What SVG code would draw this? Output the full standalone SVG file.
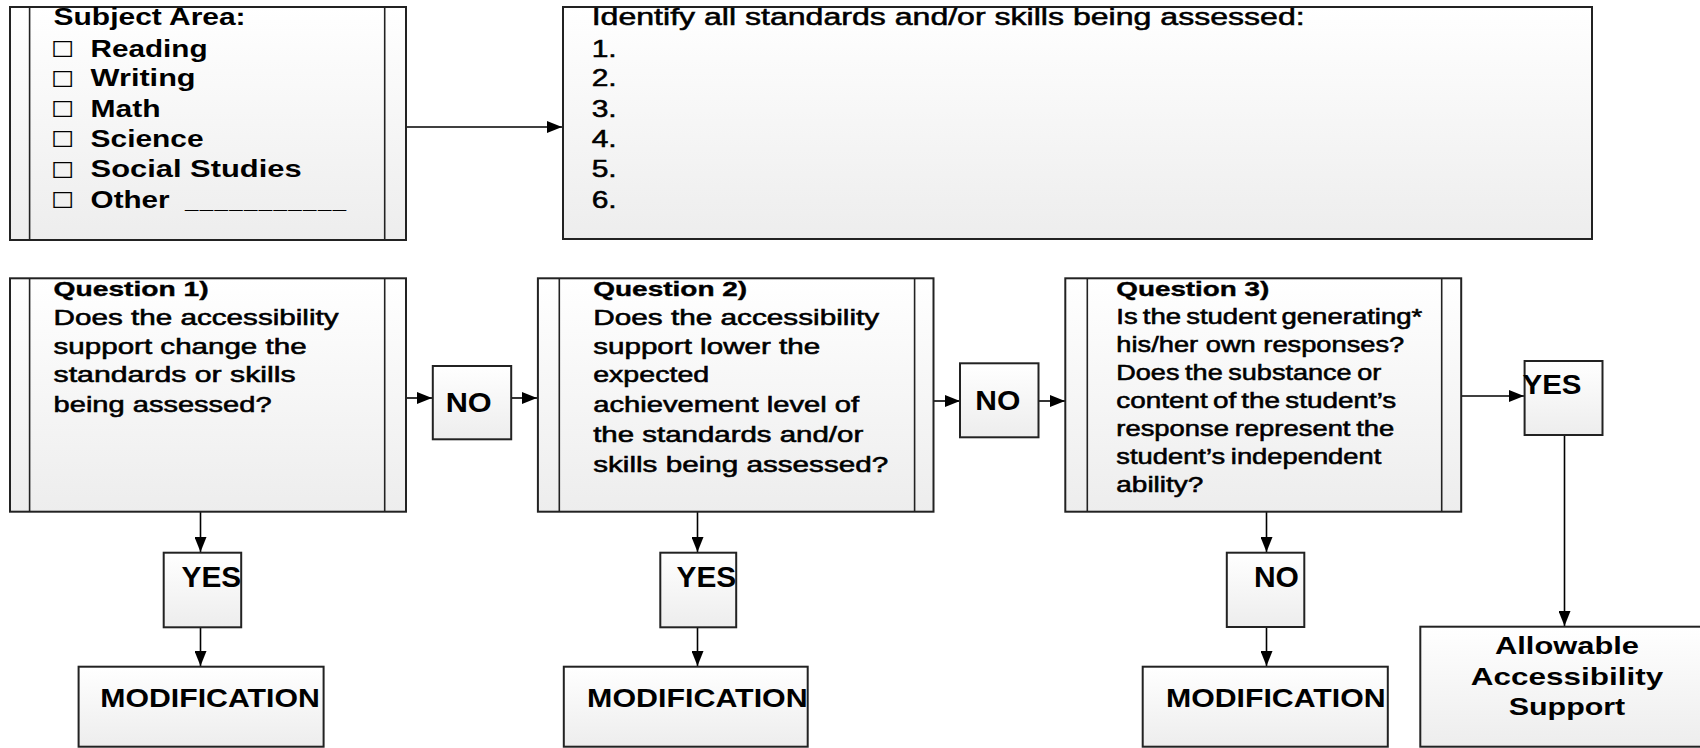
<svg xmlns="http://www.w3.org/2000/svg" width="1700" height="748" viewBox="0 0 1700 748">
  <defs>
    <linearGradient id="boxFill" x1="0" y1="0" x2="0" y2="1">
      <stop offset="0" stop-color="#ffffff"/>
      <stop offset="1" stop-color="#ededed"/>
    </linearGradient>
    <marker id="arrow" markerUnits="userSpaceOnUse" markerWidth="16" markerHeight="12" refX="15" refY="6" orient="auto">
      <path d="M0,0 L15,6 L0,12 Z" fill="#000"/>
    </marker>
    <style>
      .box { fill: url(#boxFill); stroke: #222; stroke-width: 2; }
      .bar { fill: none; stroke: #222; stroke-width: 1.6; }
      .t { font-family: "Liberation Sans", Arial, "DejaVu Sans", sans-serif; fill: #000; }
      .b { font-weight: bold; }
      .r { font-weight: normal; stroke: #000; stroke-width: 0.55; }
      .chk { font-family: "DejaVu Sans", "Noto Sans", sans-serif; font-size: 22px; fill: #000; }
      .link { fill: none; stroke: #000; stroke-width: 1.6; marker-end: url(#arrow); }
    </style>
  </defs>

  <rect width="1700" height="748" fill="#fff"/>

  <!-- connectors -->
  <g id="connectors">
    <line class="link" x1="406" y1="127" x2="562" y2="127"/>
    <line class="link" x1="406" y1="398" x2="432" y2="398"/>
    <line class="link" x1="511" y1="398" x2="537" y2="398"/>
    <line class="link" x1="933" y1="401" x2="960" y2="401"/>
    <line class="link" x1="1038" y1="401" x2="1065" y2="401"/>
    <line class="link" x1="1461" y1="396" x2="1524" y2="396" stroke="#444" stroke-width="2.2"/>
    <line class="link" x1="1564.5" y1="435" x2="1564.5" y2="626"/>
    <line class="link" x1="200.5" y1="512" x2="200.5" y2="552"/>
    <line class="link" x1="200.5" y1="627" x2="200.5" y2="666"/>
    <line class="link" x1="697.5" y1="512" x2="697.5" y2="552"/>
    <line class="link" x1="697.5" y1="627" x2="697.5" y2="666"/>
    <line class="link" x1="1266.5" y1="512" x2="1266.5" y2="552"/>
    <line class="link" x1="1266.5" y1="627" x2="1266.5" y2="666"/>
  </g>

  <!-- subject area -->
  <g id="subject-area">
    <rect class="box" x="10" y="7" width="396" height="233"/>
    <line class="bar" x1="29.6" y1="7" x2="29.6" y2="240"/>
    <line class="bar" x1="384.7" y1="7" x2="384.7" y2="240"/>
    <text class="t b" x="53.6" y="25" font-size="24" textLength="192" lengthAdjust="spacingAndGlyphs">Subject Area:</text>
    <text class="chk" x="51" y="57" textLength="23" lengthAdjust="spacingAndGlyphs">☐</text>
    <text class="t b" x="90.6" y="56.5" font-size="24" textLength="117" lengthAdjust="spacingAndGlyphs">Reading</text>
    <text class="chk" x="51" y="86.5" textLength="23" lengthAdjust="spacingAndGlyphs">☐</text>
    <text class="t b" x="90.6" y="86" font-size="24" textLength="105" lengthAdjust="spacingAndGlyphs">Writing</text>
    <text class="chk" x="51" y="117" textLength="23" lengthAdjust="spacingAndGlyphs">☐</text>
    <text class="t b" x="90.6" y="116.5" font-size="24" textLength="70" lengthAdjust="spacingAndGlyphs">Math</text>
    <text class="chk" x="51" y="147" textLength="23" lengthAdjust="spacingAndGlyphs">☐</text>
    <text class="t b" x="90.6" y="146.5" font-size="24" textLength="113" lengthAdjust="spacingAndGlyphs">Science</text>
    <text class="chk" x="51" y="177.5" textLength="23" lengthAdjust="spacingAndGlyphs">☐</text>
    <text class="t b" x="90.6" y="177" font-size="24" textLength="211" lengthAdjust="spacingAndGlyphs">Social Studies</text>
    <text class="chk" x="51" y="208" textLength="23" lengthAdjust="spacingAndGlyphs">☐</text>
    <text class="t b" x="90.6" y="207.5" font-size="24"><tspan textLength="79" lengthAdjust="spacingAndGlyphs">Other</tspan> <tspan x="185" textLength="163" lengthAdjust="spacing" letter-spacing="2">___________</tspan></text>
  </g>

  <!-- standards / skills list -->
  <g id="standards">
    <rect class="box" x="563" y="7" width="1029" height="232"/>
    <text class="t r" x="591.7" y="25" font-size="24.5" textLength="713" lengthAdjust="spacingAndGlyphs">Identify all standards and/or skills being assessed:</text>
    <text class="t r" x="591.7" y="56.5" font-size="24.5" textLength="25" lengthAdjust="spacingAndGlyphs">1.</text>
    <text class="t r" x="591.7" y="86" font-size="24.5" textLength="25" lengthAdjust="spacingAndGlyphs">2.</text>
    <text class="t r" x="591.7" y="116.5" font-size="24.5" textLength="25" lengthAdjust="spacingAndGlyphs">3.</text>
    <text class="t r" x="591.7" y="146.5" font-size="24.5" textLength="25" lengthAdjust="spacingAndGlyphs">4.</text>
    <text class="t r" x="591.7" y="177" font-size="24.5" textLength="25" lengthAdjust="spacingAndGlyphs">5.</text>
    <text class="t r" x="591.7" y="207.5" font-size="24.5" textLength="25" lengthAdjust="spacingAndGlyphs">6.</text>
  </g>

  <!-- question 1 -->
  <g id="question-1">
    <rect class="box" x="10" y="278.3" width="396" height="233.4"/>
    <line class="bar" x1="29.6" y1="278.3" x2="29.6" y2="511.7"/>
    <line class="bar" x1="384.7" y1="278.3" x2="384.7" y2="511.7"/>
    <text class="t b" x="53.6" y="296" font-size="21" textLength="155" lengthAdjust="spacingAndGlyphs" stroke="#000" stroke-width="0.4">Question 1)</text>
    <text class="t r" x="53.6" y="325" font-size="21.5" textLength="285" lengthAdjust="spacingAndGlyphs">Does the accessibility</text>
    <text class="t r" x="53.6" y="353.5" font-size="21.5" textLength="253" lengthAdjust="spacingAndGlyphs">support change the</text>
    <text class="t r" x="53.6" y="382.3" font-size="21.5" textLength="242" lengthAdjust="spacingAndGlyphs">standards or skills</text>
    <text class="t r" x="53.6" y="411.7" font-size="21.5" textLength="218" lengthAdjust="spacingAndGlyphs">being assessed?</text>
  </g>

  <g id="no-1">
    <rect class="box" x="432.8" y="366" width="78.4" height="73.3"/>
    <text class="t b" x="445.7" y="411.7" font-size="27" textLength="46" lengthAdjust="spacingAndGlyphs">NO</text>
  </g>

  <!-- question 2 -->
  <g id="question-2">
    <rect class="box" x="537.9" y="278.3" width="395.6" height="233.4"/>
    <line class="bar" x1="559.3" y1="278.3" x2="559.3" y2="511.7"/>
    <line class="bar" x1="914.6" y1="278.3" x2="914.6" y2="511.7"/>
    <text class="t b" x="593.2" y="296" font-size="21" textLength="154" lengthAdjust="spacingAndGlyphs" stroke="#000" stroke-width="0.4">Question 2)</text>
    <text class="t r" x="593.2" y="325" font-size="21.5" textLength="286" lengthAdjust="spacingAndGlyphs">Does the accessibility</text>
    <text class="t r" x="593.2" y="353.5" font-size="21.5" textLength="227" lengthAdjust="spacingAndGlyphs">support lower the</text>
    <text class="t r" x="593.2" y="382" font-size="21.5" textLength="116" lengthAdjust="spacingAndGlyphs">expected</text>
    <text class="t r" x="593.2" y="411.7" font-size="21.5" textLength="266" lengthAdjust="spacingAndGlyphs">achievement level of</text>
    <text class="t r" x="593.2" y="441.7" font-size="21.5" textLength="270" lengthAdjust="spacingAndGlyphs">the standards and/or</text>
    <text class="t r" x="593.2" y="471.5" font-size="21.5" textLength="295" lengthAdjust="spacingAndGlyphs">skills being assessed?</text>
  </g>

  <g id="no-2">
    <rect class="box" x="960" y="363.3" width="78.5" height="74"/>
    <text class="t b" x="975.3" y="410" font-size="27" textLength="45" lengthAdjust="spacingAndGlyphs">NO</text>
  </g>

  <!-- question 3 -->
  <g id="question-3">
    <rect class="box" x="1065.3" y="278.3" width="395.9" height="233.4"/>
    <line class="bar" x1="1087.3" y1="278.3" x2="1087.3" y2="511.7"/>
    <line class="bar" x1="1441.7" y1="278.3" x2="1441.7" y2="511.7"/>
    <text class="t b" x="1116.3" y="296" font-size="21" textLength="153" lengthAdjust="spacingAndGlyphs" stroke="#000" stroke-width="0.4">Question 3)</text>
    <text class="t r" x="1116.3" y="323.5" font-size="21.5" textLength="306" lengthAdjust="spacingAndGlyphs" word-spacing="-2">Is the student generating*</text>
    <text class="t r" x="1116.3" y="351.5" font-size="21.5" textLength="288" lengthAdjust="spacingAndGlyphs">his/her own responses?</text>
    <text class="t r" x="1116.3" y="379.5" font-size="21.5" textLength="265" lengthAdjust="spacingAndGlyphs" word-spacing="-1.5">Does the substance or</text>
    <text class="t r" x="1116.3" y="407.7" font-size="21.5" textLength="280" lengthAdjust="spacingAndGlyphs" word-spacing="-2">content of the student’s</text>
    <text class="t r" x="1116.3" y="435.7" font-size="21.5" textLength="278" lengthAdjust="spacingAndGlyphs" word-spacing="-1.5">response represent the</text>
    <text class="t r" x="1116.3" y="463.5" font-size="21.5" textLength="265" lengthAdjust="spacingAndGlyphs" word-spacing="-1.5">student’s independent</text>
    <text class="t r" x="1116.3" y="491.7" font-size="21.5" textLength="87" lengthAdjust="spacingAndGlyphs">ability?</text>
  </g>

  <g id="yes-3">
    <rect class="box" x="1524.6" y="361" width="77.9" height="74"/>
    <text class="t b" x="1522.5" y="394.3" font-size="27" textLength="59" lengthAdjust="spacingAndGlyphs">YES</text>
  </g>

  <!-- answer boxes under the questions -->
  <g id="yes-1">
    <rect class="box" x="163.7" y="552.7" width="77.5" height="74.6"/>
    <text class="t b" x="181.6" y="587.3" font-size="30" textLength="59.6" lengthAdjust="spacingAndGlyphs">YES</text>
  </g>
  <g id="yes-2">
    <rect class="box" x="660.3" y="552.7" width="75.9" height="74.6"/>
    <text class="t b" x="676.6" y="587.3" font-size="30" textLength="59.6" lengthAdjust="spacingAndGlyphs">YES</text>
  </g>
  <g id="no-3">
    <rect class="box" x="1226.8" y="552.7" width="77.5" height="74.3"/>
    <text class="t b" x="1253.9" y="587.3" font-size="30" textLength="45" lengthAdjust="spacingAndGlyphs">NO</text>
  </g>

  <!-- outcomes -->
  <g id="modification-1">
    <rect class="box" x="78.6" y="666.7" width="245" height="80"/>
    <text class="t b" x="100.3" y="706.7" font-size="25.5" textLength="219.5" lengthAdjust="spacingAndGlyphs">MODIFICATION</text>
  </g>
  <g id="modification-2">
    <rect class="box" x="563.8" y="666.7" width="243.9" height="80"/>
    <text class="t b" x="587.1" y="706.7" font-size="25.5" textLength="220.6" lengthAdjust="spacingAndGlyphs">MODIFICATION</text>
  </g>
  <g id="modification-3">
    <rect class="box" x="1142.7" y="666.7" width="245.1" height="80"/>
    <text class="t b" x="1166" y="706.7" font-size="25.5" textLength="219.6" lengthAdjust="spacingAndGlyphs">MODIFICATION</text>
  </g>
  <g id="allowable-support">
    <rect class="box" x="1420.3" y="626.7" width="290" height="120"/>
    <text class="t b" x="1567" y="654" font-size="24" text-anchor="middle" textLength="144" lengthAdjust="spacingAndGlyphs">Allowable</text>
    <text class="t b" x="1567" y="685" font-size="24" text-anchor="middle" textLength="192.5" lengthAdjust="spacingAndGlyphs">Accessibility</text>
    <text class="t b" x="1567" y="715" font-size="24" text-anchor="middle" textLength="116.5" lengthAdjust="spacingAndGlyphs">Support</text>
  </g>
</svg>
